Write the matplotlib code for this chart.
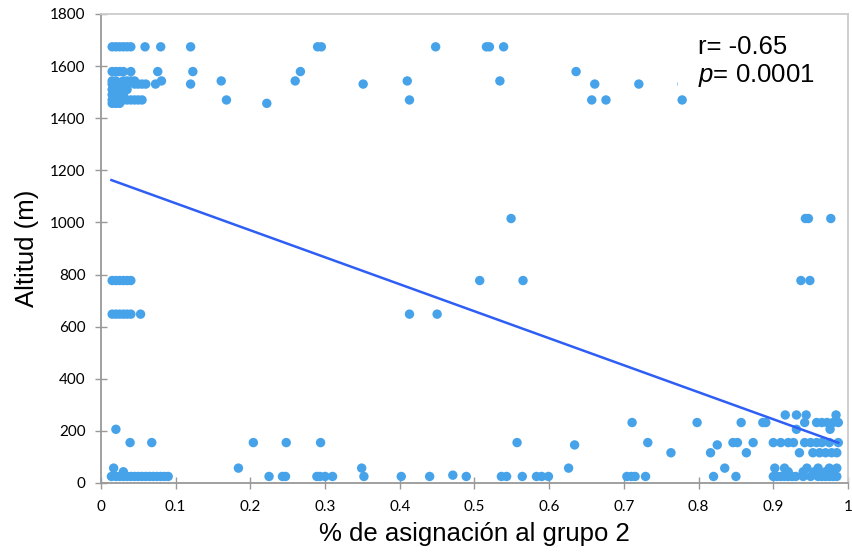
import numpy as np
import matplotlib
matplotlib.use('Agg')
import matplotlib.pyplot as plt
from matplotlib.patches import Rectangle

plt.rcParams['mathtext.fontset'] = 'custom'
plt.rcParams['mathtext.rm'] = 'Liberation Sans'
plt.rcParams['mathtext.it'] = 'Liberation Sans:italic'

# % de asignación al grupo 2 (x) y altitud en metros (y), agrupados por altitud
asignacion = [
    # 1674 m
    0.015, 0.020, 0.025, 0.030, 0.035, 0.040, 0.059, 0.080, 0.120, 0.290, 0.295,
    0.448, 0.516, 0.520, 0.539,
    # 1579 m
    0.015, 0.020, 0.025, 0.030, 0.040, 0.076, 0.123, 0.267, 0.636,
    # 1543 m
    0.015, 0.020, 0.030, 0.035, 0.040, 0.045, 0.081, 0.161, 0.260, 0.410, 0.534,
    # 1531 m
    0.015, 0.020, 0.025, 0.030, 0.035, 0.045, 0.050, 0.055, 0.060, 0.073, 0.120,
    0.351, 0.661, 0.720, 0.778,
    # 1510 / 1490 m
    0.015, 0.020, 0.028, 0.035, 0.015, 0.022, 0.030,
    # 1470 m
    0.015, 0.020, 0.025, 0.030, 0.035, 0.040, 0.045, 0.050, 0.055, 0.168, 0.413,
    0.657, 0.676, 0.778,
    # 1457 m
    0.015, 0.020, 0.025, 0.222,
    # 1015 m
    0.549, 0.943, 0.947, 0.977,
    # 777 m
    0.015, 0.020, 0.025, 0.030, 0.035, 0.040, 0.507, 0.565, 0.937, 0.949,
    # 648 m
    0.015, 0.020, 0.025, 0.030, 0.035, 0.040, 0.053, 0.413, 0.450,
    # 261 m
    0.916, 0.931, 0.944, 0.984,
    # 232 m
    0.711, 0.798, 0.857, 0.886, 0.890, 0.942, 0.958, 0.965, 0.972, 0.980, 0.987,
    # 206 m
    0.020, 0.931, 0.976,
    # 155 m
    0.039, 0.068, 0.204, 0.248, 0.294, 0.557, 0.732, 0.846, 0.852, 0.873, 0.900,
    0.910, 0.920, 0.927, 0.942, 0.950, 0.958, 0.965, 0.975, 0.987,
    # 146 m
    0.634, 0.825,
    # 116 m
    0.763, 0.816, 0.864, 0.935, 0.953, 0.962, 0.970, 0.978, 0.985,
    # 57 m
    0.017, 0.184, 0.349, 0.626, 0.835, 0.902, 0.915, 0.945, 0.960, 0.975, 0.985,
    # 43 m
    0.030, 0.920, 0.940, 0.955, 0.970, 0.980,
    # 30 m
    0.471,
    # 25 m
    0.014, 0.020, 0.025, 0.030, 0.035, 0.040, 0.045, 0.050, 0.055, 0.060, 0.065,
    0.070, 0.075, 0.080, 0.085, 0.090, 0.225, 0.243, 0.247, 0.289, 0.293, 0.300,
    0.310, 0.352, 0.402, 0.440, 0.489, 0.536, 0.543, 0.564, 0.583, 0.590, 0.599,
    0.704, 0.710, 0.715, 0.729, 0.820, 0.850, 0.900, 0.905, 0.910, 0.915, 0.920,
    0.925, 0.930, 0.940, 0.950, 0.960, 0.965, 0.970, 0.975, 0.980, 0.985,
]

altitud = (
    [1674] * 15 + [1579] * 9 + [1543] * 11 + [1531] * 15 + [1510] * 4 + [1490] * 3
    + [1470] * 14 + [1457] * 4 + [1015] * 4 + [777] * 10 + [648] * 9
    + [261] * 4 + [232] * 11 + [206] * 3 + [155] * 20 + [146] * 2 + [116] * 9
    + [57] * 11 + [43] * 6 + [30] * 1 + [25] * 54
)

# recta de regresión lineal
pendiente = -1036.0
ordenada = 1177.0
r_valor = -0.65
p_valor = '0.0001'

x_ticks = [0, 0.1, 0.2, 0.3, 0.4, 0.5, 0.6, 0.7, 0.8, 0.9, 1]
x_labels = ['0', '0.1', '0.2', '0.3', '0.4', '0.5', '0.6', '0.7', '0.8', '0.9', '1']
y_ticks = [0, 200, 400, 600, 800, 1000, 1200, 1400, 1600, 1800]

fig = plt.figure(figsize=(8.52, 5.57), dpi=100)
ax = fig.add_axes([0.1185, 0.1329, 0.8768, 0.842])

ax.scatter(asignacion, altitud, s=46, color='#47a3e9', edgecolors='none', zorder=2)

xs = np.array([min(asignacion), max(asignacion)])
ax.plot(xs, ordenada + pendiente * xs, color='#2f5ef5', lw=1.8, zorder=3)

ax.set_xlim(0, 1)
ax.set_ylim(0, 1800)
ax.set_xticks(x_ticks)
ax.set_xticklabels(x_labels)
ax.set_yticks(y_ticks)

for lab in ax.get_xticklabels() + ax.get_yticklabels():
    lab.set_family(['Lato', 'DejaVu Sans'])
    lab.set_fontsize(11)

ax.tick_params(direction='inout', length=8, width=1, color='#999999')
ax.tick_params(axis='x', pad=8)
ax.tick_params(axis='y', pad=7)

for s in ['left', 'bottom']:
    ax.spines[s].set_color('#999999')
    ax.spines[s].set_linewidth(1.3)
for s in ['top', 'right']:
    ax.spines[s].set_color('#cccccc')
    ax.spines[s].set_linewidth(1.3)

ax.set_xlabel('% de asignación al grupo 2', family='Liberation Sans', fontsize=18.5, labelpad=6)
ax.set_ylabel('Altitud (m)', family='Liberation Sans', fontsize=18.5, labelpad=8)

# cuadro blanco detrás del texto de correlación
ax.add_patch(Rectangle((0.772, 0.836), 0.222, 0.144, transform=ax.transAxes,
                       facecolor='white', edgecolor='none', zorder=3.5))
ax.text(0.7995, 0.897, f'r= {r_valor}\n$p$= {p_valor}', transform=ax.transAxes,
        family='Liberation Sans', fontsize=18.5, va='center', ha='left',
        linespacing=1.15, zorder=4)

fig.savefig('out.png', dpi=100)
